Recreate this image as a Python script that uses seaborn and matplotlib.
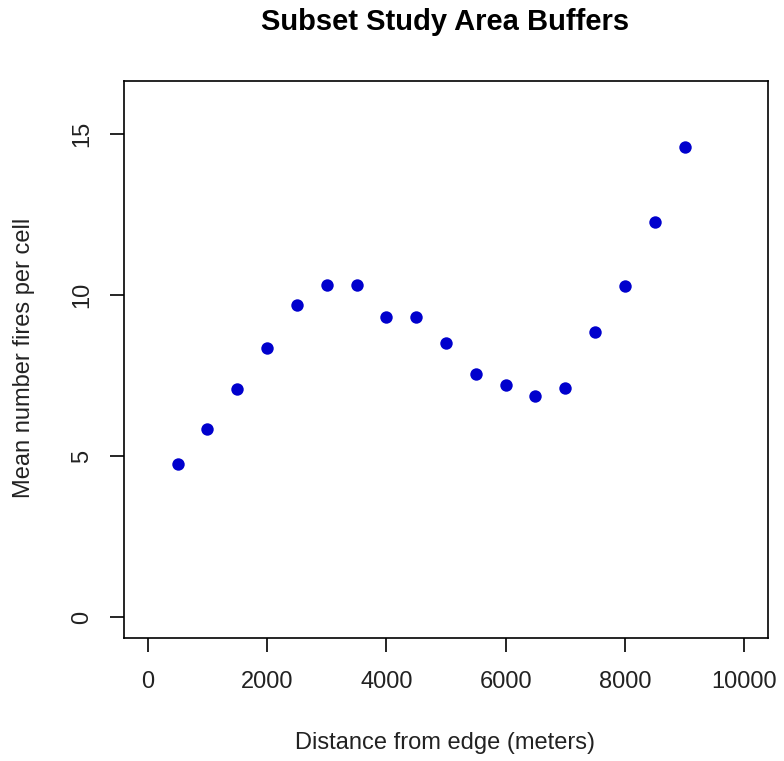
import matplotlib
matplotlib.use("Agg")
import matplotlib.pyplot as plt
import seaborn as sns
import pandas as pd

distance = [500, 1000, 1500, 2000, 2500, 3000, 3500, 4000, 4500,
            5000, 5500, 6000, 6500, 7000, 7500, 8000, 8500, 9000]
mean_fires = [4.77, 5.83, 7.07, 8.36, 9.70, 10.32, 10.32, 9.32, 9.32,
              8.50, 7.56, 7.22, 6.88, 7.13, 8.85, 10.28, 12.26, 14.60]
x_ticks = [0, 2000, 4000, 6000, 8000, 10000]
y_ticks = [0, 5, 10, 15]

sns.set_theme(style="white")
plt.rcParams['font.family'] = ['Liberation Sans', 'DejaVu Sans']

df = pd.DataFrame({"distance": distance, "mean": mean_fires})

fig = plt.figure(figsize=(7.84, 7.61), dpi=100)
ax = fig.add_axes([124/784, 1-638/761, (768-124)/784, (638-81)/761])
sns.scatterplot(data=df, x="distance", y="mean", ax=ax, color="#0000CD",
                s=80, edgecolor="#0000CD", linewidth=0, legend=False)

ax.set_xlim(-400, 10400)
ax.set_ylim(-0.64, 16.64)
ax.set_xticks(x_ticks)
ax.set_xticklabels([str(v) for v in x_ticks])
ax.set_yticks(y_ticks)
ax.set_yticklabels([str(v) for v in y_ticks], rotation=90, va="center")
for s in ax.spines.values():
    s.set_color("black")
    s.set_linewidth(1.2)
ax.tick_params(axis="both", direction="out", length=10, width=1.2, color="black",
               labelsize=17, labelcolor="#222222", bottom=True, left=True)
ax.tick_params(axis="x", pad=14)
ax.tick_params(axis="y", pad=12)
ax.set_xlabel("Distance from edge (meters)", fontsize=17, color="#222222")
ax.set_ylabel("Mean number fires per cell", fontsize=17, color="#222222")
ax.xaxis.set_label_coords((445-124)/644, (638-743)/557)
ax.yaxis.set_label_coords((24-124)/644, (638-358)/557)
ax.xaxis.label.set_va("center")
ax.yaxis.label.set_va("center")
fig.text(445/784, 1-22/761, "Subset Study Area Buffers", ha="center", va="center",
         fontsize=21, fontweight="bold", color="black")

fig.savefig("out.png", dpi=100, facecolor="white")
